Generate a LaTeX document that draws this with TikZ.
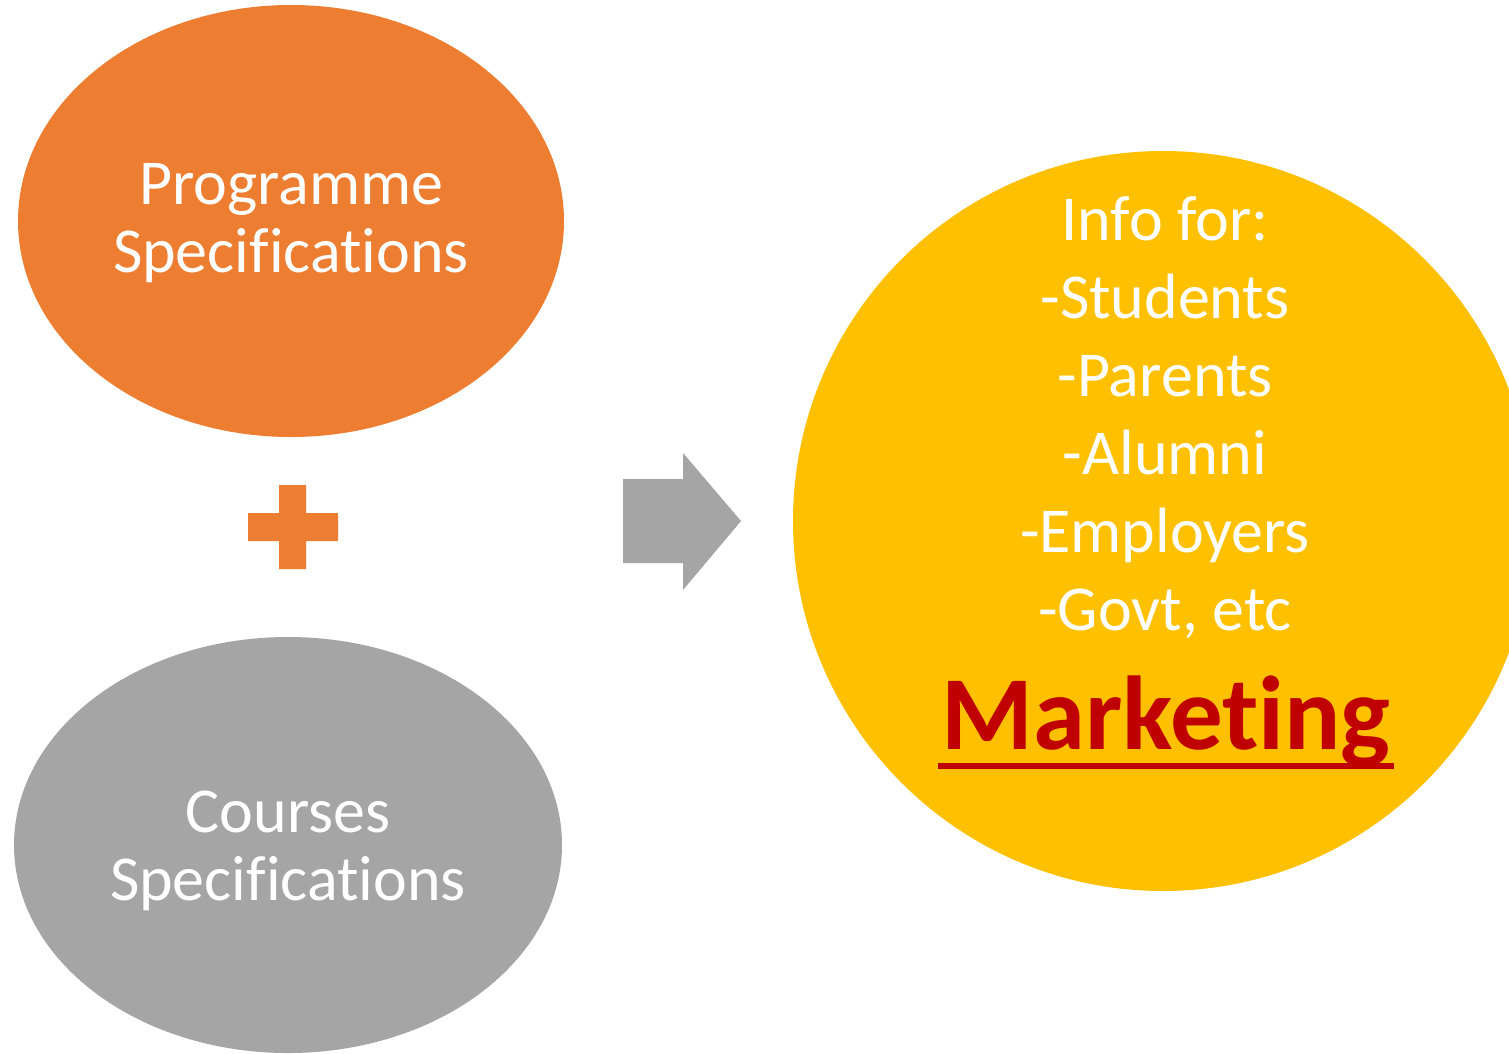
\documentclass[tikz,border=0pt]{standalone}
\usepackage{fontspec}
\setmainfont{Carlito}[Ligatures={NoCommon}]
\definecolor{orangeA}{HTML}{ED7D31}
\definecolor{grayA}{HTML}{A5A5A5}
\definecolor{yellowA}{HTML}{FFC000}
\definecolor{redA}{HTML}{C00000}
\begin{document}
\begin{tikzpicture}[x=1pt,y=-1pt,
  lbl/.style={text=white,align=center,inner sep=0pt,font=\fontsize{64}{68}\selectfont},
  lst/.style={text=white,align=center,inner sep=0pt,font=\fontsize{64}{78}\selectfont}]
\useasboundingbox (0,0) rectangle (1509,1053);
\clip (0,0) rectangle (1509,1053);
\fill[white] (0,0) rectangle (1509,1053);
% shapes
\fill[orangeA] (291,221) ellipse [x radius=273, y radius=216];
\fill[grayA] (288,845) ellipse [x radius=274, y radius=208];
\fill[yellowA] (1163,521) circle [radius=370];
% plus
\fill[orangeA] (248,513) -- (279,513) -- (279,485) -- (306,485) -- (306,513) -- (338,513)
  -- (338,541) -- (306,541) -- (306,569) -- (279,569) -- (279,541) -- (248,541) -- cycle;
% arrow
\fill[grayA] (623,479) -- (683,479) -- (683,453) -- (741,521) -- (683,590) -- (683,563) -- (623,563) -- cycle;
% texts
\node[lbl] (prog) at (291,223) {Programme\\Specifications};
\node[lbl] (crs) at (288,851) {Courses\\Specifications};
\node[lst] (info) at (1165,418) {Info for:\\-Students\\-Parents\\-Alumni\\-Employers\\-Govt, etc};
\node[text=redA,inner sep=0pt,font=\fontsize{105}{112}\selectfont\bfseries,anchor=base] (mk) at (1166,749) {Marketing};
\draw[redA,line width=5.5pt] ([xshift=-3pt,yshift=-17pt]mk.base west) -- ([xshift=3pt,yshift=-17pt]mk.base east);
\end{tikzpicture}
\end{document}
